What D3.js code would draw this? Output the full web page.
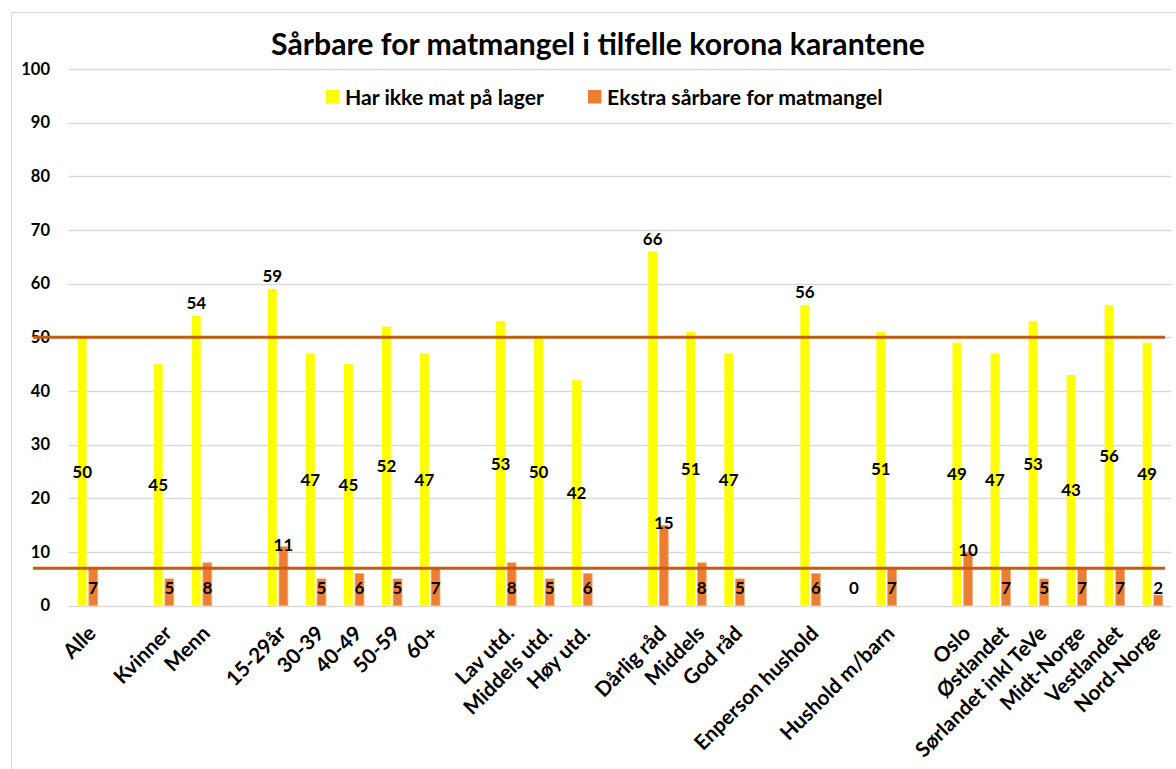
<!DOCTYPE html>
<meta charset="utf-8">
<script src="https://d3js.org/d3.v7.min.js"></script>
<style>
  body { margin: 0; background: #fff; }
  svg text { font-family: Lato, "Open Sans", sans-serif; font-weight: bold; fill: #000; }
</style>
<div id="chart"></div>

<script>
// slots with "" are the empty spacer columns of the original sheet
var categories = ["Alle", "", "Kvinner", "Menn", "", "15-29år", "30-39", "40-49", "50-59", "60+", "",
  "Lav utd.", "Middels utd.", "Høy utd.", "", "Dårlig råd", "Middels", "God råd", "",
  "Enperson hushold", "", "Hushold m/barn", "", "Oslo", "Østlandet", "Sørlandet inkl TeVe",
  "Midt-Norge", "Vestlandet", "Nord-Norge"];

var harIkkeMat = [50, null, 45, 54, null, 59, 47, 45, 52, 47, null, 53, 50, 42, null,
  66, 51, 47, null, 56, null, 51, null, 49, 47, 53, 43, 56, 49];

var ekstraSarbare = [7, null, 5, 8, null, 11, 5, 6, 5, 7, null, 8, 5, 6, null,
  15, 8, 5, null, 6, 0, 7, null, 10, 7, 5, 7, 7, 2];

var seriesNames = ["Har ikke mat på lager", "Ekstra sårbare for matmangel"];
var refLines = [50, 7];
var yTicks = [0, 10, 20, 30, 40, 50, 60, 70, 80, 90, 100];

// labels that were dragged above the bar in the original
var yellowAbove = ["Menn", "15-29år", "Dårlig råd", "Enperson hushold"];
var orangeAbove = ["15-29år", "Dårlig råd", "Oslo"];

var colors = ["#FFFF00", "#ED7D31"];

//----------------drawing stuff---------------------
var W = 1176, H = 769;
var plot = {left: 68.5, right: 1171.5, top: 69, bottom: 605.7};

var svg = d3.select("#chart").append("svg")
  .attr("width", W)
  .attr("height", H);

// chart frame
svg.append("rect")
  .attr("x", 11.5).attr("y", 12.5)
  .attr("width", W).attr("height", H)
  .attr("fill", "none")
  .attr("stroke", "#d9d9d9");

var idx = categories.map(function(d, i) { return i; });

var x0 = d3.scaleBand()
  .domain(idx)
  .range([plot.left, plot.right]);

var x1 = d3.scaleBand()
  .domain([0, 1])
  .range([9.2, 29.2])
  .paddingInner(0.2);

var y = d3.scaleLinear()
  .domain([0, 100])
  .range([plot.bottom, plot.top]);

// gridlines
svg.append("g")
  .selectAll("line")
  .data(yTicks)
  .enter().append("line")
  .attr("x1", plot.left).attr("x2", plot.right)
  .attr("y1", function(d) { return Math.round(y(d)) + 0.5; })
  .attr("y2", function(d) { return Math.round(y(d)) + 0.5; })
  .attr("stroke", "#d9d9d9")
  .attr("stroke-width", 1.5);

// y axis labels
var yAxis = svg.append("g")
  .attr("transform", "translate(" + plot.left + ",0)")
  .call(d3.axisLeft(y).tickValues(yTicks).tickSize(0).tickPadding(18.5));
yAxis.select(".domain").remove();
yAxis.selectAll("text")
  .style("font-size", "16.5px")
  .style("font-family", "Lato, sans-serif");

// title
svg.append("text")
  .attr("x", 598)
  .attr("y", 55)
  .style("text-anchor", "middle")
  .style("font-size", "30.2px")
  .text("Sårbare for matmangel i tilfelle korona karantene");

// legend
var legendX = [326, 588];
seriesNames.forEach(function(name, i) {
  svg.append("rect")
    .attr("x", legendX[i]).attr("y", 90)
    .attr("width", 13.5).attr("height", 13.5)
    .attr("fill", colors[i]);
  svg.append("text")
    .attr("x", legendX[i] + 19)
    .attr("y", 104.5)
    .style("font-size", "21.2px")
    .text(name);
});

// bars
var series = [harIkkeMat, ekstraSarbare];
var barG = svg.append("g");
series.forEach(function(vals, s) {
  vals.forEach(function(v, i) {
    if (v === null || v === 0) return;
    barG.append("rect")
      .attr("x", x0(i) + x1(s))
      .attr("y", y(v))
      .attr("width", x1.bandwidth())
      .attr("height", y(0) - y(v))
      .attr("fill", colors[s])
      .attr("stroke", s === 1 ? "#F4B183" : "none")
      .attr("stroke-width", 0.8);
  });
});

// reference lines
svg.append("g")
  .selectAll("line")
  .data(refLines)
  .enter().append("line")
  .attr("x1", 33).attr("x2", 1165)
  .attr("y1", function(d) { return y(d); })
  .attr("y2", function(d) { return y(d); })
  .attr("stroke", "#C55A11")
  .attr("stroke-width", 3);

// data labels
var labG = svg.append("g")
  .style("font-size", "17px")
  .style("text-anchor", "middle");

harIkkeMat.forEach(function(v, i) {
  if (v === null) return;
  var cy = yellowAbove.indexOf(categories[i]) >= 0 ? y(v) - 13 : (y(v) + y(0)) / 2;
  labG.append("text")
    .attr("x", x0(i) + x1(0) + x1.bandwidth() / 2)
    .attr("y", cy)
    .attr("dy", "0.36em")
    .text(v);
});

ekstraSarbare.forEach(function(v, i) {
  if (v === null) return;
  var cy = orangeAbove.indexOf(categories[i]) >= 0 ? y(v) - 2 : y(0) - 17.5;
  labG.append("text")
    .attr("x", x0(i) + x1(1) + x1.bandwidth() / 2)
    .attr("y", cy)
    .attr("dy", "0.36em")
    .text(v);
});

// category labels, rotated
svg.append("g")
  .selectAll("text")
  .data(idx.filter(function(i) { return categories[i] !== ""; }))
  .enter().append("text")
  .attr("transform", function(i) {
    return "translate(" + (x0(i) + x0.bandwidth() / 2 - 1) + ",624) rotate(-45)";
  })
  .attr("dy", "0.72em")
  .style("text-anchor", "end")
  .style("font-size", "20.8px")
  .text(function(i) { return categories[i]; });
</script>
